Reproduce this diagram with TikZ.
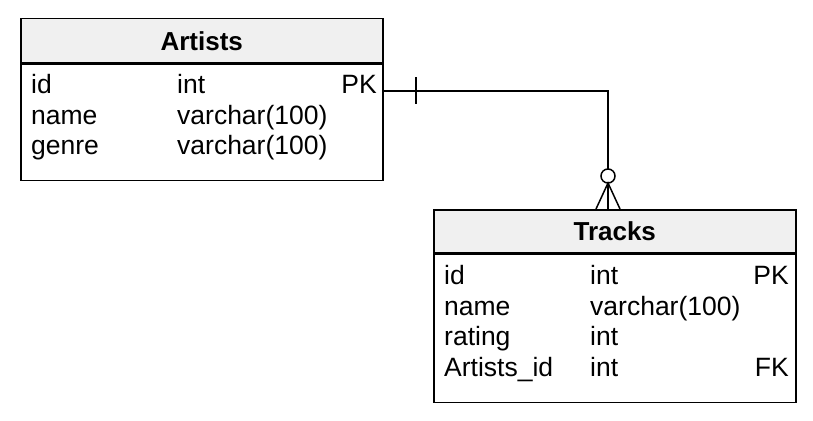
\documentclass[tikz,border=0pt]{standalone}
\usepackage{fontspec}
\setmainfont{Liberation Sans}
\usetikzlibrary{positioning}
\definecolor{headgray}{HTML}{F0F0F0}

\begin{document}
\begin{tikzpicture}[x=1pt,y=-1pt,
  tablehead/.style={draw,line width=1.5pt,fill=headgray,anchor=north west,
    minimum width=362,minimum height=44,inner sep=0pt,
    font=\fontsize{26}{30}\selectfont\bfseries},
  tablebody/.style={draw,line width=1.5pt,anchor=north west,
    minimum width=362,inner sep=0pt},
  cell/.style={anchor=base west,inner sep=0pt,font=\fontsize{26.5}{30}\selectfont},
  rcell/.style={cell,anchor=base east},
  rel/.style={line width=1.5pt}]
  \useasboundingbox (0,0) rectangle (813,420);

  % --- Artists table ---
  \node[tablehead] (artists) at (20,18) {Artists};
  \node[tablebody,minimum height=116] (artistsbody) at (artists.south west) {};
  \foreach \y/\fname/\ftype/\fkey [count=\i] in {93/id/int/PK,
      124/name/varchar(100)/, 154/genre/varchar(100)/} {
    \node[cell] (art-\i-name) at (31,\y) {\fname};
    \node[cell] (art-\i-type) at (177,\y) {\ftype};
    \node[rcell] (art-\i-key) at (377,\y) {\fkey};
  }

  % --- Tracks table ---
  \node[tablehead,minimum height=43] (tracks) at (433,209) {Tracks};
  \node[tablebody,minimum height=148] (tracksbody) at (tracks.south west) {};
  \foreach \y/\fname/\ftype/\fkey [count=\i] in {284/id/int/PK,
      315/name/varchar(100)/, 345/rating/int/, 376/Artists\_id/int/FK} {
    \node[cell] (trk-\i-name) at (444,\y) {\fname};
    \node[cell] (trk-\i-type) at (590,\y) {\ftype};
    \node[rcell] (trk-\i-key) at (789,\y) {\fkey};
  }

  % --- one-to-many relation ---
  \coordinate (fkcol) at (608,0);
  \draw[rel] (artistsbody.east |- 0,91) -| (tracks.north -| fkcol);
  \draw[rel] (416,77) -- (416,104);                % one
  \draw[rel,fill=white] (608,176) circle (7);      % zero
  \draw[rel] (596,209) -- (608,183) -- (620,209);  % many
\end{tikzpicture}
\end{document}
